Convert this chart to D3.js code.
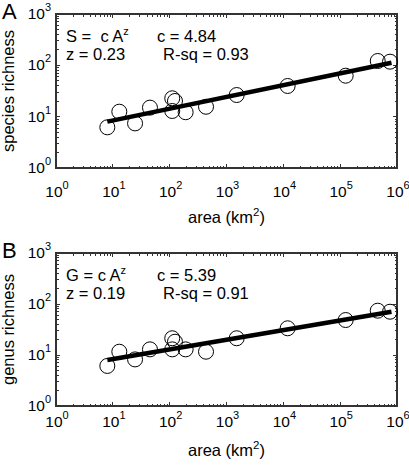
<!DOCTYPE html>
<html><head><meta charset="utf-8">
<script src="https://cdn.jsdelivr.net/npm/d3@7"></script>
<style>body{margin:0;background:#fff;} svg{display:block;font-family:"Liberation Sans",Arial,sans-serif;} text{white-space:pre;}</style>
</head><body>
<script>
// ---- data ----
const areaA = [8.0, 13.0, 24.6, 45, 111, 124, 111, 191, 436, 1510, 11900, 125000, 458000, 754000];
const speciesRichness = [6.2, 12.5, 7.4, 15.0, 22.8, 20.2, 12.9, 12.2, 15.6, 26.4, 39.6, 62.8, 121.5, 117.8];
const areaB = [8.0, 13.0, 24.6, 45, 111, 124, 111, 191, 436, 1510, 11900, 125000, 458000, 754000];
const genusRichness = [6.1, 11.6, 8.2, 12.9, 21.3, 18.2, 12.9, 12.9, 11.6, 21.3, 33.4, 48.5, 73.9, 70.6];
const fitA = [[8, 8.0], [800000, 112]];
const fitB = [[8, 8.0], [800000, 70.6]];
const xTickExps = [0, 1, 2, 3, 4, 5, 6];
const yTickExps = [0, 1, 2, 3];
const panels = [
  {letter: "A", ylabel: "species richness", x: areaA, y: speciesRichness, fit: fitA,
   eq1: ["S =  c A", "z"], c: "c = 4.84", z: "z = 0.23", r: "R-sq = 0.93"},
  {letter: "B", ylabel: "genus richness", x: areaB, y: genusRichness, fit: fitB,
   eq1: ["G = c A", "z"], c: "c = 5.39", z: "z = 0.19", r: "R-sq = 0.91"}
];

const W = 409, H = 466;
const svg = d3.select("body").append("svg").attr("width", W).attr("height", H);
const boxes = [{top: 14, bottom: 168, lblY: 197, axY: 223}, {top: 253, bottom: 406, lblY: 427, axY: 456}];
const left = 56, right = 397;

panels.forEach((p, i) => {
  const b = boxes[i];
  const g = svg.append("g");
  const x = d3.scaleLog().domain([1, 1e6]).range([left, right]);
  const y = d3.scaleLog().domain([1, 1e3]).range([b.bottom, b.top]);

  const tickCol = "#333";
  const xMinor = [], yMinor = [];
  for (let e = 0; e < 6; e++) for (let m = 2; m <= 9; m++) xMinor.push(m * Math.pow(10, e));
  for (let e = 0; e < 3; e++) for (let m = 2; m <= 9; m++) yMinor.push(m * Math.pow(10, e));
  const xMaj = xTickExps.map(e => Math.pow(10, e));
  const yMaj = yTickExps.map(e => Math.pow(10, e));
  const tk = g.append("g").attr("stroke", tickCol).attr("stroke-width", 1).attr("shape-rendering", "crispEdges");
  xMinor.forEach(v => {
    tk.append("line").attr("x1", x(v)).attr("x2", x(v)).attr("y1", b.bottom).attr("y2", b.bottom - 2.5);
    tk.append("line").attr("x1", x(v)).attr("x2", x(v)).attr("y1", b.top).attr("y2", b.top + 2.5);
  });
  xMaj.forEach(v => {
    tk.append("line").attr("x1", x(v)).attr("x2", x(v)).attr("y1", b.bottom).attr("y2", b.bottom - 4);
    tk.append("line").attr("x1", x(v)).attr("x2", x(v)).attr("y1", b.top).attr("y2", b.top + 4);
  });
  yMinor.forEach(v => {
    tk.append("line").attr("x1", left).attr("x2", left + 2.5).attr("y1", y(v)).attr("y2", y(v));
    tk.append("line").attr("x1", right).attr("x2", right - 2.5).attr("y1", y(v)).attr("y2", y(v));
  });
  yMaj.forEach(v => {
    tk.append("line").attr("x1", left).attr("x2", left + 4).attr("y1", y(v)).attr("y2", y(v));
    tk.append("line").attr("x1", right).attr("x2", right - 4).attr("y1", y(v)).attr("y2", y(v));
  });
  g.append("rect").attr("x", left).attr("y", b.top).attr("width", right - left).attr("height", b.bottom - b.top)
    .attr("fill", "none").attr("stroke", tickCol).attr("stroke-width", 1.2).attr("shape-rendering", "crispEdges");

  xTickExps.forEach(e => {
    const t = g.append("text").attr("x", x(Math.pow(10, e)) + 1).attr("y", b.lblY)
      .attr("text-anchor", "middle").attr("font-size", 15.5).attr("fill", "#000");
    t.append("tspan").text("10");
    t.append("tspan").attr("dy", -8).attr("font-size", 11).text(e);
  });
  yTickExps.forEach(e => {
    const t = g.append("text").attr("x", 51).attr("y", y(Math.pow(10, e)) + 5)
      .attr("text-anchor", "end").attr("font-size", 15.5).attr("fill", "#000");
    t.append("tspan").text("10");
    t.append("tspan").attr("dy", -8).attr("font-size", 11).text(e);
  });

  const ax = g.append("text").attr("x", (left + right) / 2).attr("y", b.axY).attr("text-anchor", "middle")
    .attr("font-size", 16.5).attr("fill", "#000");
  ax.append("tspan").text("area (km");
  ax.append("tspan").attr("dy", -7).attr("font-size", 11.5).text("2");
  ax.append("tspan").attr("dy", 7).text(")");
  g.append("text").attr("transform", `translate(14,${(b.top + b.bottom) / 2}) rotate(-90)`)
    .attr("text-anchor", "middle").attr("font-size", 16.5).attr("fill", "#000").text(p.ylabel);
  g.append("text").attr("x", 2).attr("y", b.top + 5).attr("font-size", 22).attr("fill", "#000").text(p.letter);

  const e1 = g.append("text").attr("x", 66).attr("y", b.top + 28).attr("font-size", 16.5).attr("fill", "#000");
  e1.append("tspan").text(p.eq1[0]);
  e1.append("tspan").attr("dy", -7).attr("font-size", 11).text(p.eq1[1]);
  g.append("text").attr("x", 157).attr("y", b.top + 28).attr("font-size", 16.5).attr("fill", "#000").text(p.c);
  g.append("text").attr("x", 66).attr("y", b.top + 46).attr("font-size", 16.5).attr("fill", "#000").text(p.z);
  g.append("text").attr("x", 163).attr("y", b.top + 46).attr("font-size", 16.5).attr("fill", "#000").text(p.r);

  g.append("path").datum(p.fit)
    .attr("d", d3.line().x(d => x(d[0])).y(d => y(d[1])))
    .attr("stroke", "#000").attr("stroke-width", 4.5).attr("fill", "none");

  g.append("g").selectAll("circle").data(p.x.map((v, k) => [v, p.y[k]])).join("circle")
    .attr("cx", d => x(d[0])).attr("cy", d => y(d[1])).attr("r", 7.5)
    .attr("fill", "none").attr("stroke", "#000").attr("stroke-width", 1);
});
</script>
</body></html>
